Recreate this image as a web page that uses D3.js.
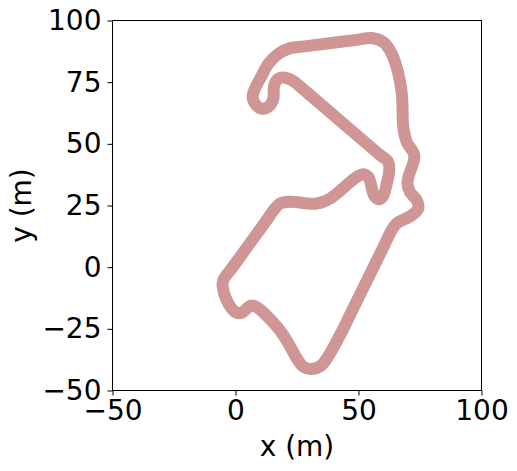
<!DOCTYPE html>
<html>
<head>
<meta charset="utf-8">
<script src="https://cdn.jsdelivr.net/npm/d3@7"></script>
<style>
body { margin: 0; background: #fff; }
text { font-family: "DejaVu Sans"; fill: #000; }
</style>
</head>
<body>
<script>
// track centre line
let trackX = [55.3, 50.0, 28.0, 22.2, 17.4, 13.4, 10.7, 7.0, 7.9, 10.9, 14.0, 15.4, 15.7, 17.4, 20.1, 23.5, 27.6, 32.0, 58.0, 62.1, 62.5, 61.5, 59.8, 58.1, 56.3, 54.0, 52.0, 49.3, 38.4, 33.0, 22.2, 18.1, 16.1, 12.0, -1.0, -5.0, -5.2, -3.6, -0.2, 2.5, 5.9, 7.9, 17.4, 21.5, 24.9, 27.6, 31.0, 35.0, 42.5, 47.0, 60.0, 63.5, 65.5, 71.6, 74.3, 73.7, 70.9, 69.9, 70.3, 72.7, 69.6, 68.2, 67.6, 65.5, 62.8, 60.1]
let trackY = [92.9, 92.24, 89.52, 88.8, 86.5, 82.5, 77.7, 69.6, 66.3, 64.2, 65.6, 68.3, 73.7, 76.4, 76.8, 75.4, 72.1, 68.34, 46.1, 42.6, 39.3, 33.9, 28.5, 27.5, 29.2, 36.6, 37.7, 36.6, 27.8, 25.8, 26.5, 25.8, 23.8, 18.15, 0.22, -5.3, -8.0, -13.4, -18.1, -18.5, -15.7, -15.8, -24.8, -30.9, -37.0, -40.4, -41.3, -39.7, -27.5, -18.4, 7.9, 15.0, 17.7, 21.0, 23.8, 27.1, 30.5, 33.9, 36.6, 45.3, 50.7, 56.8, 70.3, 81.1, 87.9, 91.2]
let xTicks = [-50, 0, 50, 100]
let yTicks = [-50, -25, 0, 25, 50, 75, 100]

let width = 517
let height = 471
let left = 112.5
let right = 481.5
let top_ = 20.5
let bottom = 390.5

let svg = d3.select("body")
            .append("svg")
            .attr("width", width)
            .attr("height", height)
            .style("display", "block")

let xScale = d3.scaleLinear().domain([-50, 100]).range([left, right])
let yScale = d3.scaleLinear().domain([-50, 100]).range([bottom, top_])

let points = trackX.map((x, i) => [x, trackY[i]])

let line = d3.line()
             .x(d => xScale(d[0]))
             .y(d => yScale(d[1]))
             .curve(d3.curveCatmullRomClosed.alpha(0.5))

svg.append("path")
   .datum(points)
   .attr("d", line)
   .attr("fill", "none")
   .attr("stroke", "#d09595")
   .attr("stroke-width", 12)
   .attr("stroke-linejoin", "round")

let fmt = d => String(d).replace("-", "\u2212")

let xAxis = d3.axisBottom(xScale).tickValues(xTicks).tickFormat(fmt).tickSize(5).tickPadding(5)
let yAxis = d3.axisLeft(yScale).tickValues(yTicks).tickFormat(fmt).tickSize(5).tickPadding(6)

let gx = svg.append("g").attr("transform", "translate(0," + bottom + ")").call(xAxis)
let gy = svg.append("g").attr("transform", "translate(" + left + ",0)").call(yAxis)

// matplotlib style frame, all four sides
svg.append("rect")
   .attr("x", left).attr("y", top_)
   .attr("width", right - left).attr("height", bottom - top_)
   .attr("fill", "none").attr("stroke", "#000").attr("stroke-width", 1)

gx.selectAll(".domain").remove()
gy.selectAll(".domain").remove()
svg.selectAll(".tick text").style("font-size", "28px").style("font-family", "DejaVu Sans").attr("fill", "#000")
svg.selectAll(".tick line").attr("stroke", "#000").attr("stroke-width", 1)

svg.append("text")
   .attr("x", (left + right) / 2)
   .attr("y", 456)
   .attr("text-anchor", "middle")
   .style("font-size", "28px")
   .text("x (m)")

svg.append("text")
   .attr("transform", "translate(31," + (top_ + bottom) / 2 + ") rotate(-90)")
   .attr("text-anchor", "middle")
   .style("font-size", "28px")
   .text("y (m)")
</script>
</body>
</html>
